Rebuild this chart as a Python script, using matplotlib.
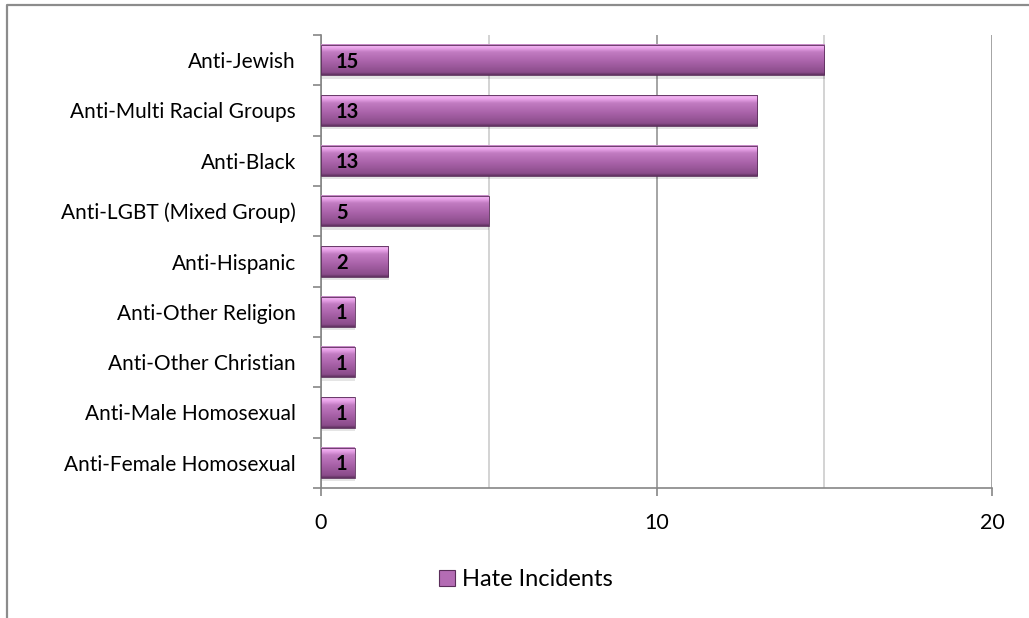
import matplotlib
matplotlib.use("Agg")
import matplotlib.pyplot as plt
import numpy as np
from matplotlib.colors import LinearSegmentedColormap
from matplotlib.lines import Line2D
from matplotlib.patches import Rectangle

# ---- data (top to bottom as shown) ----
categories = [
    "Anti-Jewish",
    "Anti-Multi Racial Groups",
    "Anti-Black",
    "Anti-LGBT (Mixed Group)",
    "Anti-Hispanic",
    "Anti-Other Religion",
    "Anti-Other Christian",
    "Anti-Male Homosexual",
    "Anti-Female Homosexual",
]
incidents = [15, 13, 13, 5, 2, 1, 1, 1, 1]
series_name = "Hate Incidents"

plt.rcParams["font.family"] = ["Lato", "DejaVu Sans"]

fig = plt.figure(figsize=(10.29, 6.18), dpi=100)
ax = fig.add_axes([321 / 1029, 1 - 488 / 618, (992 - 321) / 1029, (488 - 35) / 618])

n = len(categories)
ypos = np.arange(n)[::-1]
bar_h = 0.6

# bevel-like vertical gradient, bottom -> top
bevel = LinearSegmentedColormap.from_list(
    "bevel",
    [(0.0, "#5f315f"), (0.08, "#8a4c8a"), (0.45, "#ab64ab"),
     (0.75, "#c27cc2"), (0.88, "#e9a3e9"), (0.96, "#f3b6f3"), (1.0, "#b67ab6")],
)
grad = np.linspace(0, 1, 64).reshape(-1, 1)

for y, v in zip(ypos, incidents):
    # soft shadow under each bar
    ax.add_patch(Rectangle((0.02, y - bar_h / 2 - 0.07), v, bar_h,
                           facecolor="#000000", alpha=0.10, lw=0, zorder=2))
    ax.imshow(grad, extent=(0, v, y - bar_h / 2, y + bar_h / 2), origin="lower",
              cmap=bevel, aspect="auto", interpolation="bilinear", zorder=3)
    ax.add_patch(Rectangle((0, y - bar_h / 2), v, bar_h, facecolor="none",
                           edgecolor="#5a2d5a", lw=0.6, zorder=4))
    ax.text(0.45, y - 0.03, str(v), ha="left", va="center", fontsize=14.5,
            fontweight="bold", color="black", zorder=5)

ax.set_xlim(0, 20)
ax.set_ylim(-0.5, n - 0.5)

ax.set_xticks([0, 10, 20])
ax.set_xticks([5, 15], minor=True)
ax.tick_params(axis="x", which="major", length=6, color="#868686", width=1.2,
               labelsize=15.5, pad=12)
ax.tick_params(axis="x", which="minor", length=0)
ax.grid(axis="x", which="major", color="#8c8c8c", lw=1.1, zorder=0)
ax.grid(axis="x", which="minor", color="#c8c8c8", lw=1.1, zorder=0)
ax.set_axisbelow(True)

ax.set_yticks(ypos)
ax.set_yticklabels(categories, fontsize=15)
ax.set_yticks(np.arange(-0.5, n, 1.0), minor=True)
ax.tick_params(axis="y", which="major", length=0, pad=18)
ax.tick_params(axis="y", which="minor", length=6, color="#868686", width=1.2)

for side in ["top", "right"]:
    ax.spines[side].set_visible(False)
for side in ["left", "bottom"]:
    ax.spines[side].set_color("#868686")
    ax.spines[side].set_linewidth(1.2)

# legend
handle = Rectangle((0, 0), 1, 1, facecolor="#b46cb4", edgecolor="#5a2d5a", lw=0.8)
fig.legend([handle], [series_name], loc="center", bbox_to_anchor=(526 / 1029, 1 - 580 / 618),
           frameon=False, fontsize=17, handlelength=0.65, handleheight=0.65,
           handletextpad=0.3)

# outer chart border (left and top edges visible)
fig.add_artist(Line2D([7 / 1029, 7 / 1029, 1.0], [0.0, 1 - 5 / 618, 1 - 5 / 618],
                      transform=fig.transFigure, color="#8c8c8c", lw=1.6))

fig.savefig("out.png", dpi=100)
